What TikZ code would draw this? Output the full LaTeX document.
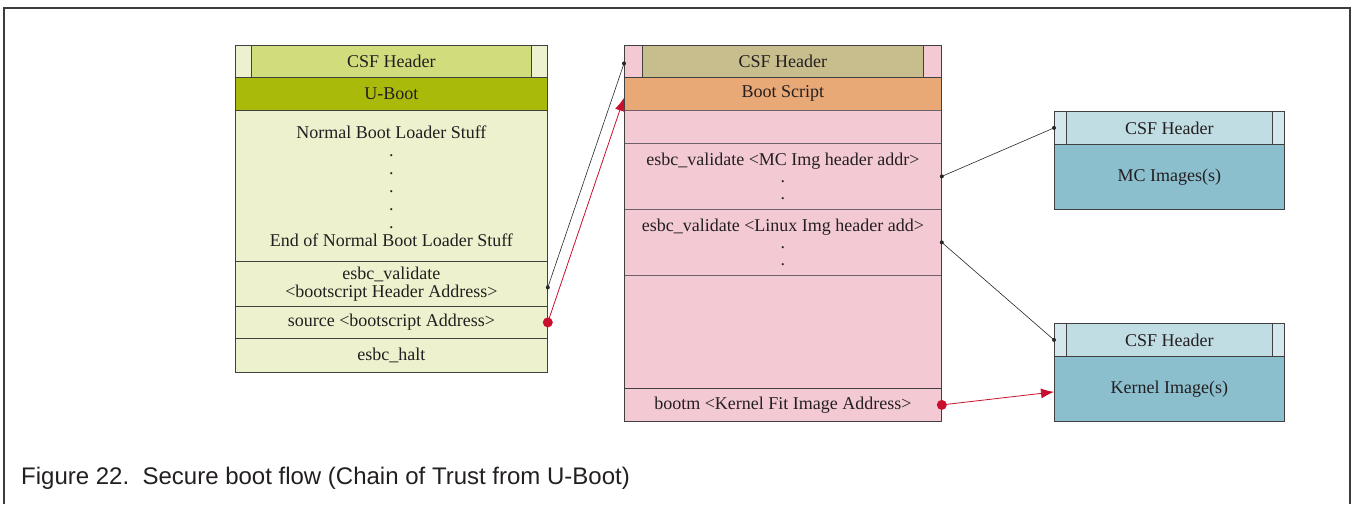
\documentclass[tikz,border=0pt]{standalone}
\usepackage{fontspec}
\setmainfont{Liberation Serif}
\newfontfamily\capfont{Liberation Sans}
\usetikzlibrary{arrows.meta}

\definecolor{framegray}{HTML}{3C3C3C}
\definecolor{cellgray}{HTML}{404040}
\definecolor{rowgray}{HTML}{6E6068}
\definecolor{inkgray}{HTML}{231F20}
\definecolor{ubside}{HTML}{EEF1D0}
\definecolor{ubcsf}{HTML}{D1DC7C}
\definecolor{ubhead}{HTML}{A9BA0B}
\definecolor{ubbody}{HTML}{EEF1CE}
\definecolor{bspink}{HTML}{F3CAD4}
\definecolor{bscsf}{HTML}{C8BE8D}
\definecolor{bshead}{HTML}{E9A977}
\definecolor{imside}{HTML}{D4E7EC}
\definecolor{imcsf}{HTML}{C1DDE4}
\definecolor{imbody}{HTML}{8BBFCE}
\definecolor{chainred}{HTML}{C8102E}

\begin{document}
\begin{tikzpicture}[x=1pt,y=-1pt, % one pt per pixel, y going down
    cell/.style={draw=cellgray, line width=0.8pt, inner sep=0pt, anchor=north west,
      align=center, text=inkgray, font=\fontsize{18}{18}\selectfont},
    pinkcell/.style={cell, fill=bspink, font=\fontsize{18}{17}\selectfont},
    link/.style={line width=0.6pt, draw=black!85},
    redlink/.style={line width=0.8pt, draw=chainred, -{Latex[length=13pt,width=10pt]}},
  ]

  % Picture area of the reference
  \useasboundingbox (0,0) rectangle (1352,504);

  % Outer frame, open at the bottom
  \draw[framegray, line width=2.5pt] (4,504) -- (4,8) -- (1350,8) -- (1350,504);

  % U-Boot image
  \def\ux{235}
  \node[cell, fill=ubside, minimum width=16, minimum height=32] (ucsfl) at (\ux,45) {};
  \node[cell, fill=ubcsf, minimum width=280, minimum height=32] (ucsf) at (251,45) {CSF Header};
  \node[cell, fill=ubside, minimum width=16, minimum height=32] (ucsfr) at (531,45) {};
  \node[cell, fill=ubhead, minimum width=312, minimum height=33] (uboot) at (\ux,77) {U-Boot};
  \node[cell, fill=ubbody, minimum width=312, minimum height=151] (normal) at (\ux,110)
    {Normal Boot Loader Stuff\\.\\.\\.\\.\\.\\End of Normal Boot Loader Stuff};
  \node[cell, fill=ubbody, minimum width=312, minimum height=45] (esbcv) at (\ux,261)
    {esbc\_validate\\<bootscript Header Address>};
  \node[cell, fill=ubbody, minimum width=312, minimum height=32] (source) at (\ux,306)
    {source <bootscript Address>};
  \node[cell, fill=ubbody, minimum width=312, minimum height=34] (halt) at (\ux,338) {esbc\_halt};

  % Boot script image
  \def\bx{624}
  \node[pinkcell, minimum width=18, minimum height=32] (bcsfl) at (\bx,45) {};
  \node[cell, fill=bscsf, minimum width=281, minimum height=32] (bcsf) at (642,45) {CSF Header};
  \node[pinkcell, minimum width=18, minimum height=32] (bcsfr) at (923,45) {};
  \node[cell, fill=bshead, minimum width=317, minimum height=33] (bscript) at (\bx,77) {Boot Script};
  \node[pinkcell, draw=rowgray, minimum width=317, minimum height=33] (bgap) at (\bx,110) {};
  \node[pinkcell, draw=rowgray, minimum width=317, minimum height=66] (mcval) at (\bx,143)
    {esbc\_validate <MC Img header addr>\\.\\.};
  \node[pinkcell, draw=rowgray, minimum width=317, minimum height=66] (linuxval) at (\bx,209)
    {esbc\_validate <Linux Img header add>\\.\\.};
  \node[pinkcell, draw=rowgray, minimum width=317, minimum height=113] (bspace) at (\bx,275) {};
  \node[pinkcell, minimum width=317, minimum height=33] (bootm) at (\bx,388)
    {bootm <Kernel Fit Image Address>};
  \draw[cellgray, line width=0.8pt] (bcsfl.north west) rectangle (bootm.south east);

  % MC and kernel images
  \def\ix{1054}
  \foreach \img/\top/\txt in {mc/111/MC Images(s), kern/323/Kernel Image(s)} {
    \node[cell, fill=imside, minimum width=12, minimum height=33] (\img csfl) at (\ix,\top) {};
    \node[cell, fill=imcsf, minimum width=206, minimum height=33] (\img csf) at (1066,\top) {CSF Header};
    \node[cell, fill=imside, minimum width=12, minimum height=33] (\img csfr) at (1272,\top) {};
    \node[cell, fill=imbody, minimum width=230, minimum height=65] (\img body) at (\ix,\top+33) {\txt};
  }

  % Chain of trust links
  \draw[link] ([yshift=-3.5pt]esbcv.east) -- ([yshift=-2pt]bcsfl.west);
  \fill[black!85] ([yshift=-3.5pt]esbcv.east) circle[radius=2pt]
    ([yshift=-2pt]bcsfl.west) circle[radius=2pt];
  \draw[redlink] (source.east) -- ([yshift=-4pt]bscript.west);
  \fill[chainred] (source.east) circle[radius=5pt];

  \draw[link] (mcval.east) -- (mccsfl.west);
  \fill[black!85] (mcval.east) circle[radius=2pt] (mccsfl.west) circle[radius=2pt];
  \draw[link] (linuxval.east) -- (kerncsfl.west);
  \fill[black!85] (linuxval.east) circle[radius=2pt] (kerncsfl.west) circle[radius=2pt];
  \draw[redlink] (bootm.east) -- ([yshift=-3pt]kernbody.west);
  \fill[chainred] (bootm.east) circle[radius=5pt];

  % Caption
  \node[anchor=base west, inner sep=0pt, text=inkgray, font=\capfont\fontsize{24}{24}\selectfont]
    (caption) at (21,484) {Figure 22.~~Secure boot flow (Chain of Trust from U-Boot)};

\end{tikzpicture}
\end{document}
